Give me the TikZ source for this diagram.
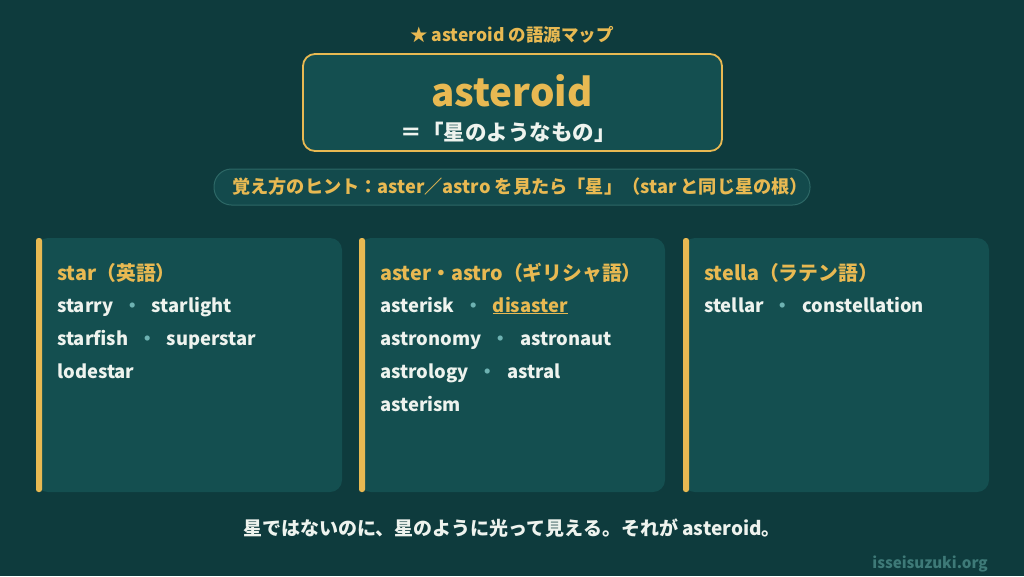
\documentclass[tikz,border=0pt]{standalone}
\usepackage{fontspec}
\setmainfont{Noto Sans CJK JP}
\definecolor{bg}{RGB}{14,59,61}
\definecolor{card}{RGB}{20,79,80}
\definecolor{gold}{RGB}{232,185,82}
\definecolor{ink}{RGB}{238,243,238}
\definecolor{dotc}{RGB}{110,178,178}
\definecolor{pillfill}{RGB}{19,74,76}
\definecolor{pillline}{RGB}{45,104,102}
\definecolor{site}{RGB}{62,122,120}
\newcommand\fsz[1]{\fontsize{#1}{#1}\selectfont\bfseries}
\newcommand\wsep{\hspace{10pt}\textcolor{dotc}{・}\hspace{10pt}}
\begin{document}
\begin{tikzpicture}[x=1pt,y=-1pt,
  txt/.style={inner sep=0pt, anchor=base west},
  ctxt/.style={inner sep=0pt, anchor=base},
  cardbox/.style={fill=card, rounded corners=12pt},
  goldbar/.style={fill=gold, rounded corners=2.5pt},
  head/.style={txt, text=gold, font=\fsz{19.8}},
  word/.style={txt, text=ink, font=\fsz{18.4}}]
\useasboundingbox (0,0) rectangle (1024,576);
\fill[bg] (0,0) rectangle (1024,576);
% title
\node[ctxt, text=gold, font=\fsz{17.5}] (title) at (512,41) {★ asteroid の語源マップ};
% main box
\draw[gold, line width=1.8pt, fill=card, rounded corners=12pt] (303,54) rectangle (722,151);
\node[ctxt, text=gold, font=\fsz{38.5}] (word) at (512,106) {asteroid};
\node[ctxt, text=ink, font=\fsz{21.5}] (meaning) at (508,140) {＝「星のようなもの」};
% hint pill
\draw[pillline, line width=1pt, fill=pillfill, rounded corners=17.5pt] (214,169) rectangle (810,205);
\node[txt, text=gold, font=\fsz{18.2}] (hint) at (232,193.5) {覚え方のヒント：aster／astro を見たら「星」（star と同じ星の根）};
% cards
\foreach \cx in {36,359,683}{
  \fill[cardbox] (\cx,238) rectangle ({\cx+306},492);
  \fill[goldbar] (\cx,238) rectangle ({\cx+6},492);
}
% card 1
\node[head] (h1) at (57,280) {star（英語）};
\node[word] (a1) at (57,312) {starry\wsep starlight};
\node[word] (a2) at (57,345) {starfish\wsep superstar};
\node[word] (a3) at (57,378) {lodestar};
% card 2
\node[head] (h2) at (380,280) {aster・astro（ギリシャ語）};
\node[word] (b1) at (380,312) {asterisk\wsep\textcolor{gold}{\underline{disaster}}};
\node[word] (b2) at (380,345) {astronomy\wsep astronaut};
\node[word] (b3) at (380,378) {astrology\wsep astral};
\node[word] (b4) at (380,411) {asterism};
% card 3
\node[head] (h3) at (704,280) {stella（ラテン語）};
\node[word] (c1) at (704,312) {stellar\wsep constellation};
% footer
\node[ctxt, text=ink, font=\fsz{19}] (foot) at (512,535) {星ではないのに、星のように光って見える。それが asteroid。};
\node[inner sep=0pt, anchor=base east, text=site, font=\fsz{15.2}] (site) at (988,568) {isseisuzuki.org};
\end{tikzpicture}
\end{document}
